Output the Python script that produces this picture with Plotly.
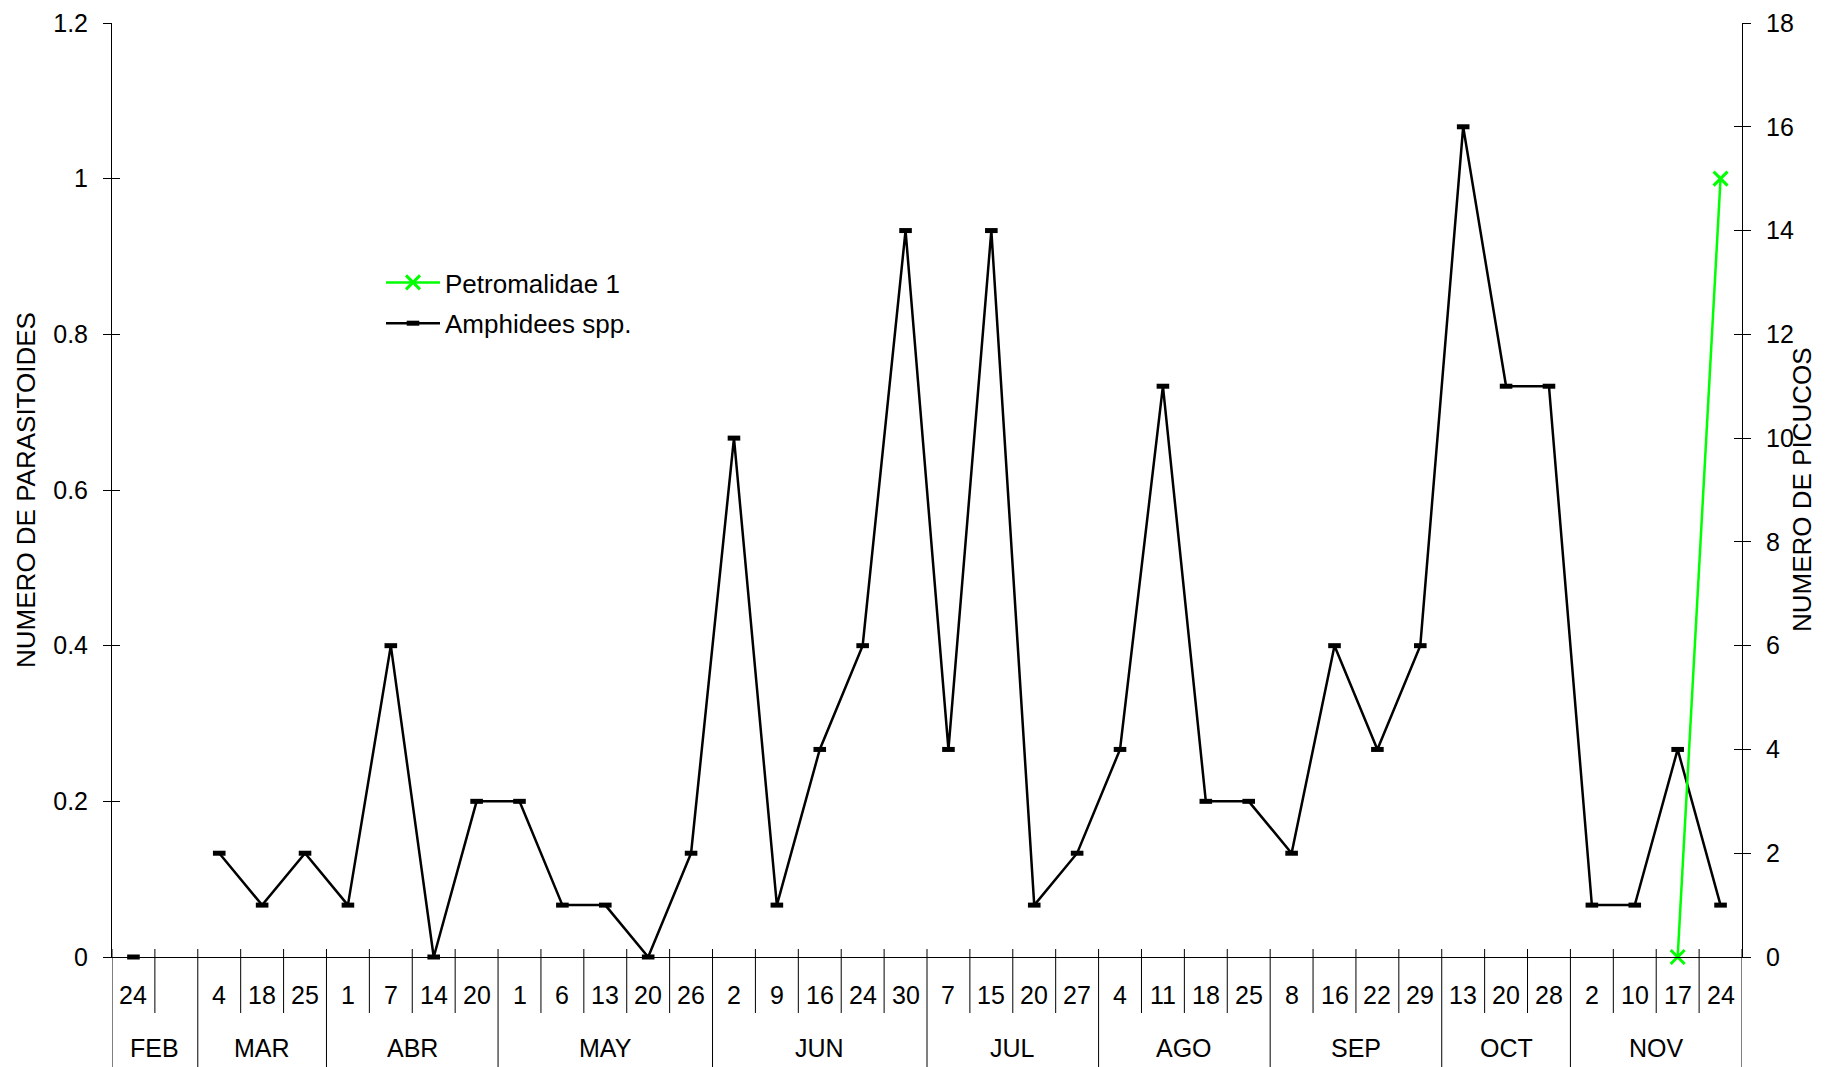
import plotly.graph_objects as go

# Sampling dates (day of month) grouped by month; the second FEB slot has no sample
days = ["24", "",
        "4", "18", "25",
        "1", "7", "14", "20",
        "1", "6", "13", "20", "26",
        "2", "9", "16", "24", "30",
        "7", "15", "20", "27",
        "4", "11", "18", "25",
        "8", "16", "22", "29",
        "13", "20", "28",
        "2", "10", "17", "24"]
months = ["FEB", "MAR", "ABR", "MAY", "JUN", "JUL", "AGO", "SEP", "OCT", "NOV"]
month_sizes = [2, 3, 4, 5, 5, 4, 4, 4, 3, 4]

# Weevil counts (right axis)
amphidees = [0, None,
             2, 1, 2,
             1, 6, 0, 3,
             3, 1, 1, 0, 2,
             10, 1, 4, 6, 14,
             4, 14, 1, 2,
             4, 11, 3, 3,
             2, 6, 4, 6,
             16, 11, 11,
             1, 1, 4, 1]

# Parasitoid counts (left axis)
petromalidae = [None, None,
                None, None, None,
                None, None, None, None,
                None, None, None, None, None,
                None, None, None, None, None,
                None, None, None, None,
                None, None, None, None,
                None, None, None, None,
                None, None, None,
                None, None, 0, 1]

FONT = "Liberation Sans, Arial, sans-serif"
W, H = 1838, 1067
ML, MR, MT, MB = 112, 96, 23, 110
PW = W - ML - MR
PH = H - MT - MB

xs = list(range(len(days)))

fig = go.Figure()

fig.add_trace(go.Scatter(
    x=xs, y=amphidees, name="Amphidees spp.", yaxis="y",
    mode="lines+markers", connectgaps=False, cliponaxis=False,
    line=dict(color="black", width=2.5),
    marker=dict(symbol="line-ew", size=9, line=dict(color="black", width=5)),
    legendgroup="amph", legendrank=2,
))
fig.add_trace(go.Scatter(
    x=xs, y=petromalidae, name="Petromalidae 1", yaxis="y2",
    mode="lines+markers", connectgaps=False, cliponaxis=False,
    line=dict(color="#00ff00", width=2.5),
    marker=dict(symbol="x-thin", size=14, line=dict(color="#00ff00", width=3)),
    legendgroup="petro", legendrank=1,
))
# carriers for the inward half of the crossing tick marks
fig.add_trace(go.Scatter(x=[], y=[], yaxis="y3", showlegend=False, hoverinfo="skip"))
fig.add_trace(go.Scatter(x=[], y=[], yaxis="y4", showlegend=False, hoverinfo="skip"))

def px_to_paper(py):
    return (H - MB - py) / PH

tick_top = 8 / PH
day_bottom = px_to_paper(1013)
month_bottom = px_to_paper(1075)

# boundaries that close a month
month_edges = set()
acc = 0
month_centers = []
for n in month_sizes:
    month_edges.add(acc)
    month_centers.append(acc + (n - 1) / 2)
    acc += n
month_edges.add(acc)

shapes = []
for b in range(len(days) + 1):
    bottom = month_bottom if b in month_edges else day_bottom
    shapes.append(dict(type="line", xref="x", yref="paper",
                       x0=b - 0.5, x1=b - 0.5, y0=tick_top, y1=bottom,
                       line=dict(color="black", width=1)))

annotations = []
for i, d in enumerate(days):
    if d:
        annotations.append(dict(x=i, y=px_to_paper(995), xref="x", yref="paper",
                                text=d, showarrow=False, yanchor="middle",
                                font=dict(family=FONT, size=25, color="black")))
for c, m in zip(month_centers, months):
    annotations.append(dict(x=c, y=px_to_paper(1048), xref="x", yref="paper",
                            text=m, showarrow=False, yanchor="middle",
                            font=dict(family=FONT, size=25, color="black")))

tickfont = dict(family=FONT, size=25, color="black")
titlefont = dict(family=FONT, size=26, color="black")

# right-hand axis title
annotations.append(dict(x=(1802 - ML) / PW, y=0.5, xref="paper", yref="paper",
                        text="NUMERO DE PICUCOS", textangle=-90, showarrow=False,
                        xanchor="center", yanchor="middle", font=titlefont))

fig.update_layout(
    width=W, height=H,
    margin=dict(l=ML, r=MR, t=MT, b=MB),
    plot_bgcolor="white", paper_bgcolor="white",
    shapes=shapes, annotations=annotations,
    xaxis=dict(range=[-0.5, len(days) - 0.5], showticklabels=False, ticks="",
               showgrid=False, zeroline=False, showline=True,
               linecolor="black", linewidth=1),
    yaxis=dict(side="right", range=[0, 18], dtick=2, tick0=0,
               ticks="outside", ticklen=8, tickcolor="black",
               showline=True, linecolor="black", linewidth=1,
               showgrid=False, zeroline=False, tickfont=tickfont,
               ticklabelstandoff=10, automargin=False),
    yaxis2=dict(overlaying="y", side="left", range=[0, 1.2], dtick=0.2, tick0=0,
                ticks="outside", ticklen=8, tickcolor="black",
                showline=True, linecolor="black", linewidth=1,
                showgrid=False, zeroline=False, tickfont=tickfont,
                ticklabelstandoff=10, automargin=False,
                title=dict(text="NUMERO DE PARASITOIDES", font=titlefont, standoff=10)),
    yaxis3=dict(overlaying="y", side="right", range=[0, 18], dtick=2, tick0=0,
                ticks="inside", ticklen=8, tickcolor="black",
                showticklabels=False, showline=False, showgrid=False, zeroline=False),
    yaxis4=dict(overlaying="y", side="left", range=[0, 1.2], dtick=0.2, tick0=0,
                ticks="inside", ticklen=8, tickcolor="black",
                showticklabels=False, showline=False, showgrid=False, zeroline=False),
    legend=dict(x=(386 - ML - 5) / PW, y=px_to_paper(259),
                xanchor="left", yanchor="top", traceorder="grouped",
                tracegroupgap=4, itemwidth=54,
                font=dict(family=FONT, size=26, color="black"),
                bgcolor="rgba(0,0,0,0)", borderwidth=0),
    showlegend=True,
)

fig.write_html("out.html")
